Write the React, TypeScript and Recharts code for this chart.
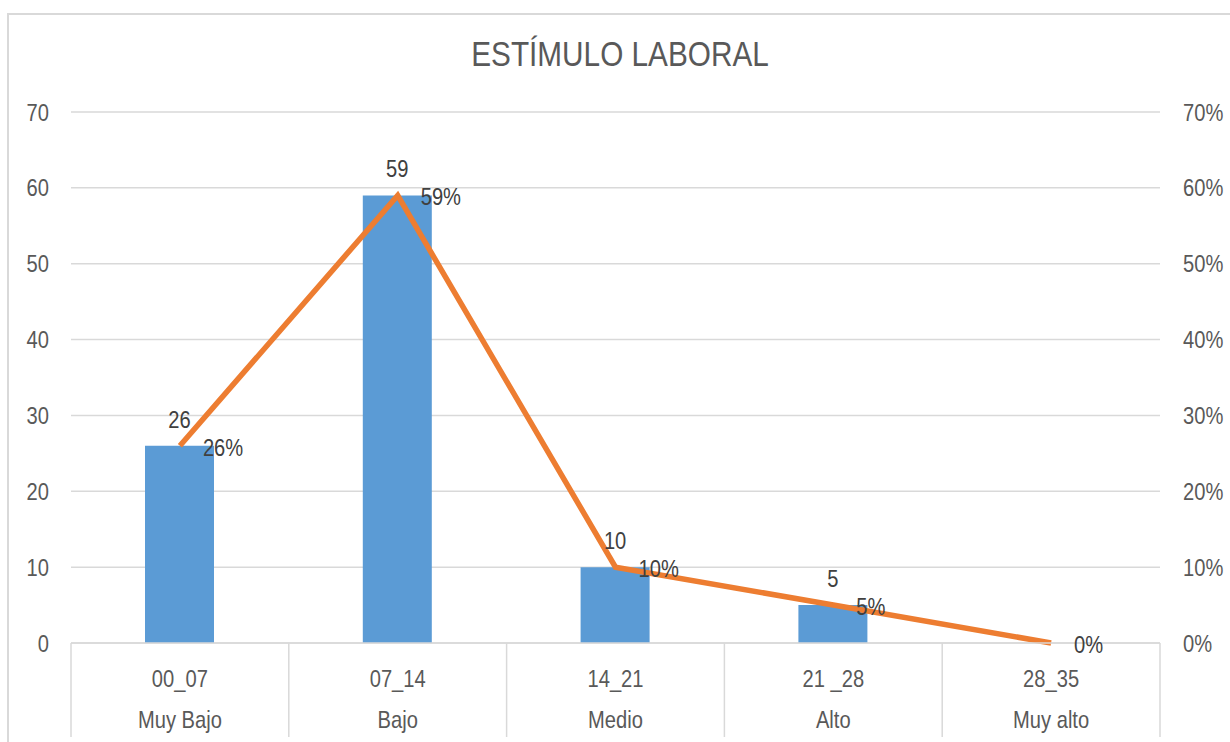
import {
  ComposedChart,
  Bar,
  Line,
  XAxis,
  YAxis,
  CartesianGrid,
  LabelList,
} from "recharts";

const rangos = ["00_07", "07_14", "14_21", "21 _28", "28_35"];
const niveles = ["Muy Bajo", "Bajo", "Medio", "Alto", "Muy alto"];
const frecuencia = [26, 59, 10, 5, 0];
const porcentaje = [0.26, 0.59, 0.1, 0.05, 0];

const ticksIzq = [0, 10, 20, 30, 40, 50, 60, 70];
const ticksDer = [0, 0.1, 0.2, 0.3, 0.4, 0.5, 0.6, 0.7];

const FONT = '"Liberation Sans", Arial, sans-serif';
const GRIS = "#d9d9d9";
const TEXTO = "#595959";
const ETIQUETA = "#404040";
const ESTRECHO = 0.84; // horizontal squeeze for a narrow-looking face

const data = rangos.map((r, i) => ({
  rango: r,
  nivel: niveles[i],
  frecuencia: frecuencia[i],
  porcentaje: porcentaje[i],
}));

const pct = (v: number) => `${Math.round(v * 100)}%`;

function Narrow({
  x,
  y,
  anchor = "start",
  fill = TEXTO,
  baseline,
  children,
}: {
  x: number;
  y: number;
  anchor?: "start" | "middle" | "end";
  fill?: string;
  baseline?: boolean;
  children: any;
}) {
  return (
    <text
      transform={`translate(${x},${y}) scale(${ESTRECHO},1)`}
      x={0}
      y={0}
      dy={baseline ? 0 : "0.355em"}
      textAnchor={anchor}
      fill={fill}
      fontSize={24}
      fontFamily={FONT}
    >
      {children}
    </text>
  );
}

// two-row category tick with the separators between groups
function CategoriaTick(props: any) {
  const { x, y, payload, index } = props;
  const half = payload?.offset ?? 109;
  const item = data[index] ?? data[0];
  return (
    <g>
      <line x1={x - half} y1={y} x2={x - half} y2={y + 94} stroke={GRIS} strokeWidth={1.5} />
      {index === data.length - 1 && (
        <line x1={x + half} y1={y} x2={x + half} y2={y + 94} stroke={GRIS} strokeWidth={1.5} />
      )}
      <Narrow x={x} y={y + 44} anchor="middle" baseline>
        {item.rango}
      </Narrow>
      <Narrow x={x} y={y + 85} anchor="middle" baseline>
        {item.nivel}
      </Narrow>
    </g>
  );
}

function IzqTick(props: any) {
  const { x, y, payload } = props;
  return (
    <Narrow x={x} y={y} anchor="end">
      {payload.value}
    </Narrow>
  );
}

function DerTick(props: any) {
  const { x, y, payload } = props;
  return (
    <Narrow x={x} y={y} anchor="start">
      {pct(payload.value)}
    </Narrow>
  );
}

function FrecuenciaLabel(props: any) {
  const { x, y, width, value } = props;
  return (
    <Narrow x={x + width / 2} y={y - 18} anchor="middle" fill={ETIQUETA} baseline>
      {value}
    </Narrow>
  );
}

function PorcentajeLabel(props: any) {
  const { x, y, value } = props;
  return (
    <Narrow x={x + 23} y={y + 10} fill={ETIQUETA} baseline>
      {pct(value)}
    </Narrow>
  );
}

export default function App() {
  return (
    <div
      style={{
        position: "absolute",
        left: 0,
        top: 0,
        width: 1230,
        height: 742,
        overflow: "hidden",
        background: "#fff",
      }}
    >
      <div
        style={{
          position: "absolute",
          left: 7,
          top: 13,
          width: 1260,
          height: 760,
          border: `2px solid ${GRIS}`,
          boxSizing: "border-box",
        }}
      />
      <div
        style={{
          position: "absolute",
          left: 0,
          width: 1240,
          top: 34,
          textAlign: "center",
          fontFamily: FONT,
          fontSize: 35,
          color: TEXTO,
          lineHeight: "40px",
          transform: "scaleX(0.85)",
        }}
      >
        ESTÍMULO LABORAL
      </div>
      <ComposedChart
        width={1230}
        height={742}
        data={data}
        margin={{ top: 112, right: 0, left: 0, bottom: 0 }}
        style={{ position: "absolute", left: 0, top: 0 }}
      >
        <CartesianGrid yAxisId="izq" vertical={false} stroke={GRIS} strokeWidth={1.5} />
        <XAxis
          dataKey="rango"
          interval={0}
          height={99}
          axisLine={{ stroke: GRIS, strokeWidth: 1.5 }}
          tickLine={false}
          tickSize={0}
          tickMargin={0}
          tick={<CategoriaTick />}
        />
        <YAxis
          yAxisId="izq"
          width={71}
          domain={[0, 70]}
          ticks={ticksIzq}
          axisLine={false}
          tickLine={false}
          tickSize={0}
          tickMargin={22}
          tick={<IzqTick />}
        />
        <YAxis
          yAxisId="der"
          orientation="right"
          width={70}
          domain={[0, 0.7]}
          ticks={ticksDer}
          axisLine={false}
          tickLine={false}
          tickSize={0}
          tickMargin={23}
          tick={<DerTick />}
        />
        <Bar yAxisId="izq" dataKey="frecuencia" fill="#5b9bd5" barSize={69} isAnimationActive={false}>
          <LabelList dataKey="frecuencia" content={<FrecuenciaLabel />} />
        </Bar>
        {/* percentage labels sit under the orange line */}
        <Line
          yAxisId="der"
          dataKey="porcentaje"
          stroke="none"
          dot={false}
          activeDot={false}
          isAnimationActive={false}
        >
          <LabelList dataKey="porcentaje" content={<PorcentajeLabel />} />
        </Line>
        <Line
          yAxisId="der"
          type="linear"
          dataKey="porcentaje"
          stroke="#ed7d31"
          strokeWidth={5.5}
          dot={false}
          activeDot={false}
          isAnimationActive={false}
        />
      </ComposedChart>
    </div>
  );
}
